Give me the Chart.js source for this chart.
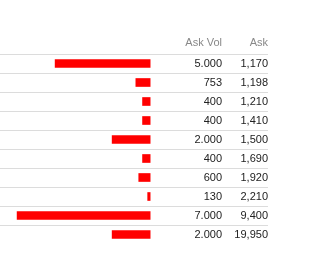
<!DOCTYPE html>
<html>
<head>
<meta charset="utf-8">
<script src="https://cdn.jsdelivr.net/npm/chart.js@4/dist/chart.umd.min.js"></script>
<style>
  body { margin: 0; background: #fff; }
  #wrap { width: 325px; height: 253px; }
</style>
</head>
<body>
<div id="wrap"><canvas id="askChart" width="325" height="253"></canvas></div>
<script>
// order book, ask side
const askPrices = ['1,170', '1,198', '1,210', '1,410', '1,500', '1,690', '1,920', '2,210', '9,400', '19,950'];
const askVolumes = [5000, 753, 400, 400, 2000, 400, 600, 130, 7000, 2000];
const headers = ['Ask Vol', 'Ask'];

const FONT = '11px "Liberation Sans", Arial, sans-serif';

function fmtVol(v) {
  return String(v).replace(/\B(?=(\d{3})+(?!\d))/g, '.');
}

// draws the header and the two number columns next to the bars
const columnText = {
  id: 'columnText',
  afterDatasetsDraw(chart) {
    const ctx = chart.ctx;
    const yScale = chart.scales.y;
    const volX = 222, askX = 268;
    ctx.save();
    ctx.font = FONT;
    ctx.textAlign = 'right';
    ctx.textBaseline = 'middle';
    ctx.fillStyle = '#888';
    ctx.fillText(headers[0], volX, 43);
    ctx.fillText(headers[1], askX, 43);
    ctx.fillStyle = '#222';
    askPrices.forEach((p, i) => {
      const y = yScale.getPixelForValue(i);
      ctx.fillText(fmtVol(askVolumes[i]), volX, y);
      ctx.fillText(p, askX, y);
    });
    ctx.restore();
  }
};

const ctx = document.getElementById('askChart').getContext('2d');
new Chart(ctx, {
  type: 'bar',
  data: {
    labels: askPrices,
    datasets: [{
      label: 'Ask Vol',
      data: askVolumes,
      backgroundColor: '#ff0000',
      borderWidth: 0,
      barThickness: 8
    }]
  },
  options: {
    indexAxis: 'y',
    responsive: false,
    animation: false,
    layout: { padding: { left: 0, right: 57, top: 54, bottom: 9 } },
    plugins: {
      legend: { display: false },
      tooltip: { enabled: false }
    },
    scales: {
      x: {
        display: false,
        reverse: true,
        min: -6200,
        max: 7900
      },
      y: {
        ticks: { display: false },
        border: { display: false },
        grid: {
          drawTicks: false,
          lineWidth: 1,
          // no rule under the last row
          color: c => (c.type === 'tick' ? '#dcdcdc' : 'rgba(0,0,0,0)')
        }
      }
    }
  },
  plugins: [columnText]
});
</script>
</body>
</html>
